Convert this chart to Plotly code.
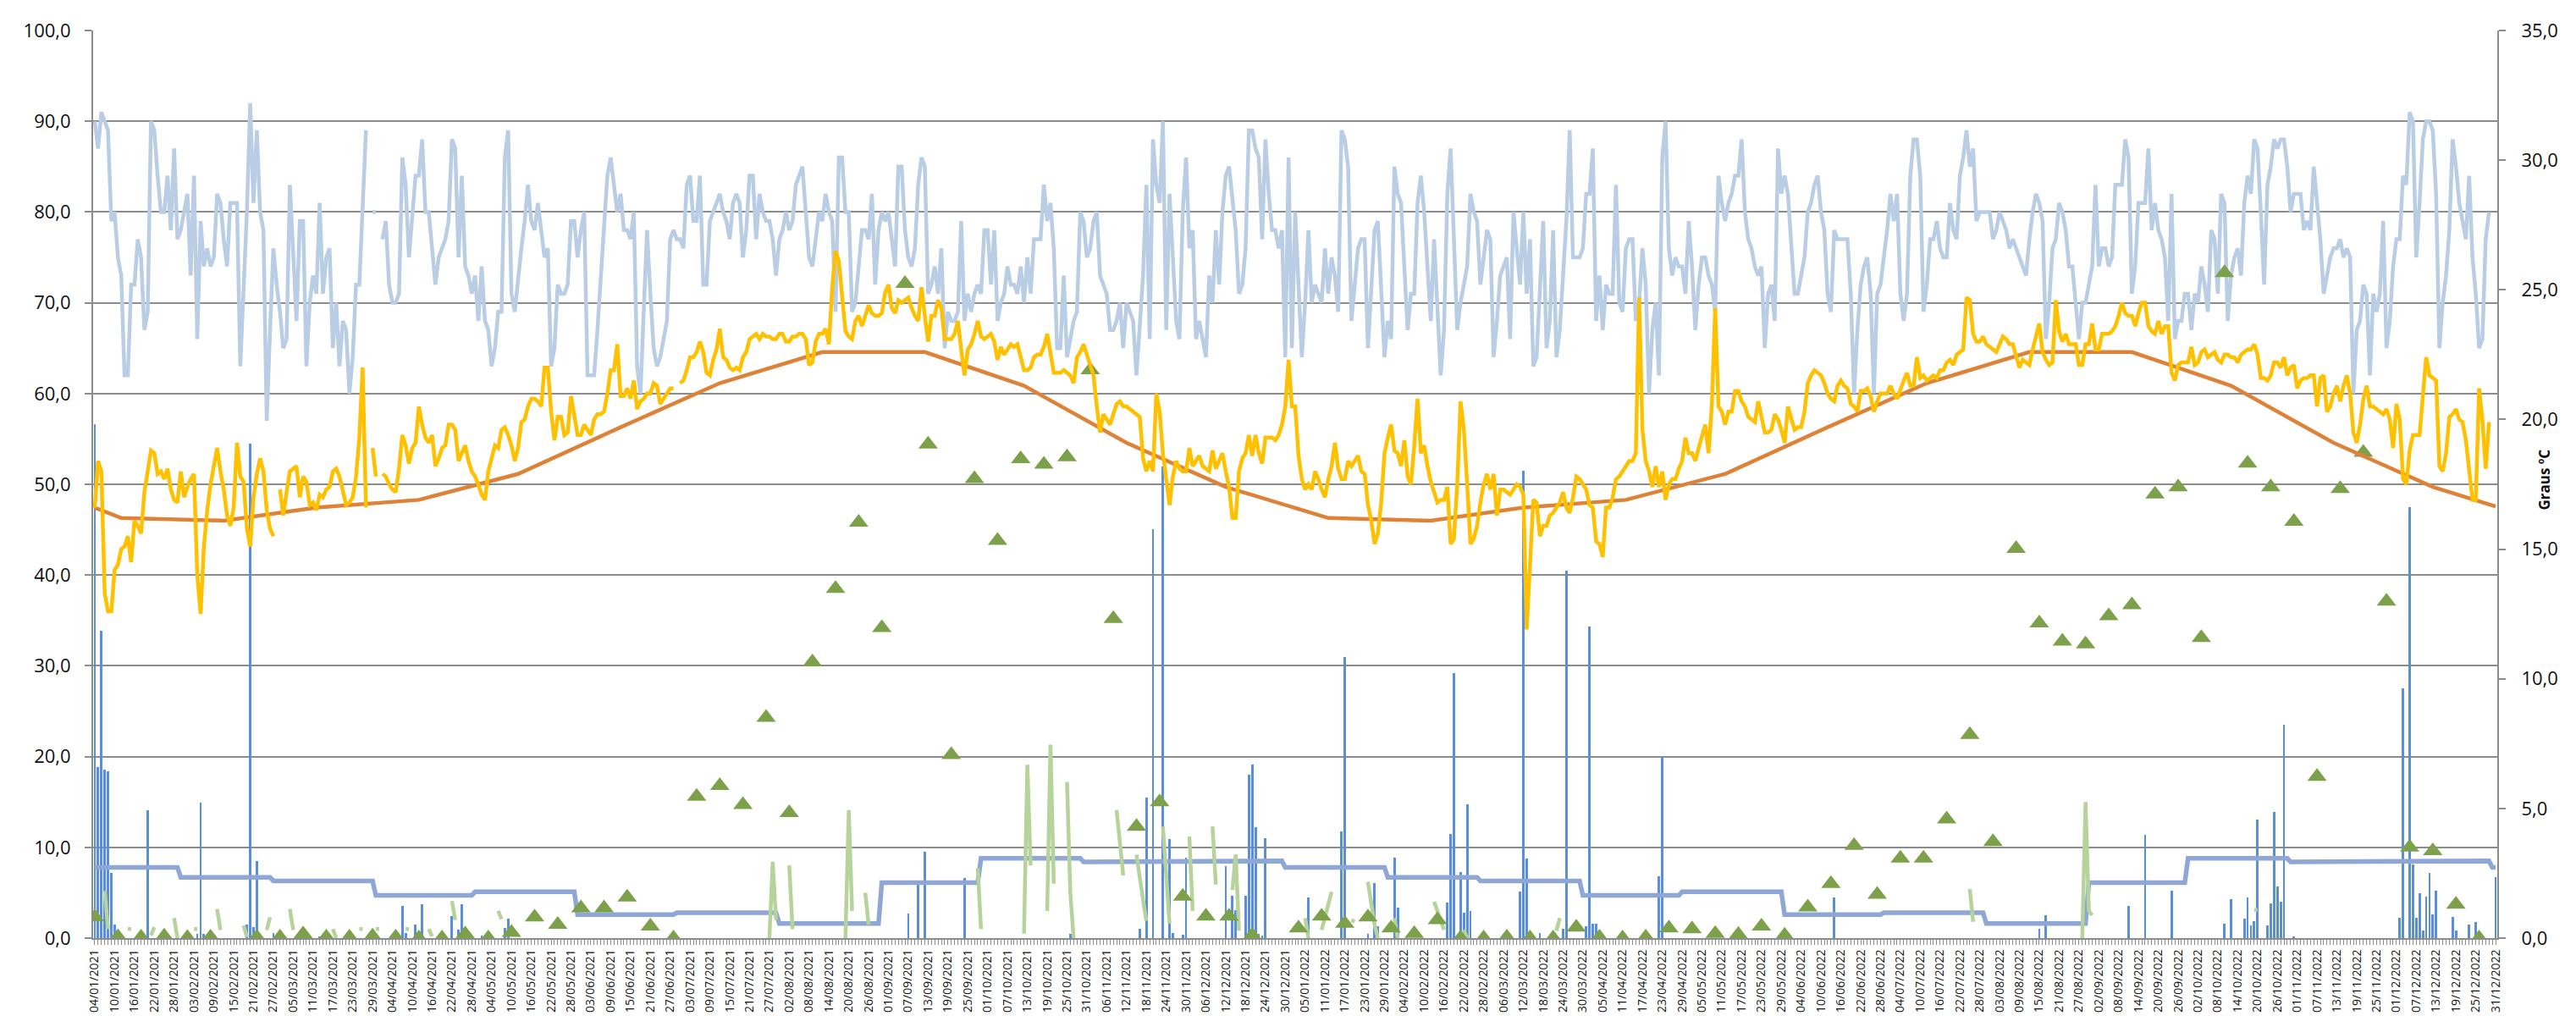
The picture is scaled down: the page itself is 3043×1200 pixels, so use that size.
import pandas as pd
import plotly.graph_objects as go

# ---------------- categories ----------------
days = pd.date_range("2021-01-04", "2022-12-31", freq="D")          # 727 daily categories
label_days = days[::6]                                                 # axis labels every 6 days
week_days = pd.date_range("2021-01-04", periods=104, freq="7D")       # weekly series dates

# ---------------- daily relative humidity (%) ----------------
humidity = [
    90,87,91,90,89,79,80,75,73,62,62,72,72,77,75,67,69,90,89,84,
    80,80,84,78,87,77,78,80,82,73,84,66,79,74,76,74,75,82,81,77,
    74,81,81,81,63,72,80,92,81,89,80,78,57,67,76,72,69,65,66,83,
    75,68,79,79,63,70,73,71,81,71,75,76,65,70,63,68,67,60,64,72,
    72,80,89,None,80,80,None,77,79,72,70,70,71,86,83,75,80,84,84,88,
    80,80,76,72,75,76,77,79,88,87,75,84,74,73,71,73,68,74,68,67,
    63,65,69,69,86,89,71,69,73,76,79,83,79,78,81,78,75,76,63,65,
    72,71,71,72,79,79,75,78,80,62,62,62,67,73,78,84,86,83,80,82,
    78,78,77,80,63,60,70,78,71,65,63,64,66,68,77,78,77,77,76,83,
    84,79,79,84,72,72,79,80,81,82,80,79,77,81,82,81,75,78,84,84,
    77,82,80,79,79,77,73,77,78,80,78,79,83,84,85,80,75,74,77,80,
    79,82,80,79,69,86,86,80,80,69,70,74,78,78,77,82,72,78,80,79,
    80,77,74,85,85,78,75,74,76,83,86,85,71,72,74,71,76,65,69,68,
    68,69,79,68,71,69,71,72,71,78,78,72,78,68,70,71,74,72,72,71,
    74,70,75,71,77,77,77,83,79,81,76,65,65,73,64,66,68,69,80,79,
    75,76,79,80,73,72,71,67,67,68,70,65,70,69,68,62,68,73,83,66,
    88,83,81,90,67,82,75,68,66,80,86,76,78,66,68,66,64,73,70,78,
    72,80,84,85,81,78,71,72,76,89,89,87,86,77,88,82,78,78,76,78,
    64,86,65,80,72,64,70,78,70,72,71,70,76,71,75,73,69,89,88,85,
    68,72,76,77,77,65,72,78,79,72,64,68,66,85,82,81,74,67,71,71,
    81,84,80,74,68,77,70,62,67,82,87,77,67,70,72,74,82,80,79,72,
    75,78,77,64,68,73,74,75,66,80,76,72,80,71,77,63,64,72,79,65,
    68,78,64,67,73,79,89,75,75,75,76,82,82,87,68,73,67,72,71,71,
    83,70,69,76,77,77,68,70,76,72,60,67,70,62,86,90,76,73,75,74,
    74,71,79,74,67,72,75,75,73,72,69,84,81,79,81,82,84,84,88,80,
    77,76,74,73,74,65,71,72,68,87,82,84,82,77,71,71,73,75,80,81,
    83,84,80,78,71,69,78,77,77,77,77,71,60,67,72,74,75,71,60,71,
    72,75,78,82,79,82,71,68,71,84,88,88,84,69,72,77,77,79,76,75,
    75,81,78,77,84,86,89,85,87,79,80,80,80,80,77,78,80,79,78,76,
    77,76,75,74,73,77,80,82,81,79,66,70,76,77,81,80,78,74,74,70,
    66,70,70,72,74,83,74,76,76,74,75,83,83,83,88,86,71,74,81,81,
    81,87,78,81,78,77,75,68,82,66,68,68,71,71,67,71,70,74,72,69,
    78,77,71,82,81,68,73,75,76,73,81,84,82,88,87,80,72,83,85,88,
    87,88,88,85,80,82,82,82,78,79,78,85,81,77,71,73,75,76,76,77,
    75,76,75,60,67,68,72,71,62,71,69,71,79,65,68,74,77,77,84,83,
    91,90,75,81,88,90,90,89,82,65,70,73,78,88,85,81,79,77,84,75,
    71,65,66,77,80,None,None,
]

# ---------------- daily mean temperature (ºC) ----------------
temperature = [
    16.6,18.4,18.0,13.3,12.6,12.6,14.2,14.4,15.0,15.1,15.5,14.5,16.1,15.9,15.6,17.2,18.0,18.8,18.7,17.9,
    18.0,17.7,18.1,17.3,16.9,16.8,18.0,17.0,17.4,17.7,17.9,14.0,12.5,15.1,16.5,17.5,18.2,18.9,18.0,17.3,
    16.3,15.9,16.6,19.1,17.8,17.6,15.8,15.1,17.0,17.9,18.5,18.0,16.5,15.8,15.5,None,17.3,16.3,17.2,18.0,
    18.1,18.2,17.0,17.8,17.6,16.7,16.8,16.5,17.1,17.0,17.3,17.4,18.0,18.1,17.8,17.3,16.7,16.8,17.0,17.8,
    19.3,22.0,16.6,None,18.9,17.8,None,17.9,17.8,17.5,17.3,17.2,18.1,19.4,19.0,18.3,18.9,19.1,20.5,19.8,
    19.3,19.1,19.4,18.2,18.5,18.9,19.0,19.8,19.8,19.6,18.4,18.7,19.0,18.4,18.0,17.8,17.5,17.1,16.9,18.0,
    18.5,19.0,18.9,19.6,19.7,19.4,19.0,18.4,18.9,19.9,20.0,20.5,20.8,20.8,20.7,20.5,22.0,22.0,20.3,19.2,
    20.1,20.1,19.4,19.5,20.9,20.1,19.4,19.4,19.8,19.6,19.4,20.0,20.2,20.2,20.3,21.0,21.9,21.9,22.9,20.9,
    20.9,21.2,20.8,21.5,20.4,20.7,20.8,21.0,21.0,21.4,21.3,20.6,20.8,21.0,21.2,21.2,None,21.4,21.5,21.9,
    22.4,22.4,22.6,23.0,22.6,21.8,21.7,22.3,22.7,23.5,22.4,22.3,22.0,21.9,22.0,21.9,22.4,22.6,23.1,23.2,
    23.3,23.1,23.3,23.2,23.2,23.1,23.1,23.3,23.3,23.0,23.0,23.2,23.2,23.3,23.3,23.1,22.1,22.2,23.0,23.3,
    23.3,23.5,22.9,25.1,26.5,26.1,24.7,23.4,23.2,23.1,23.8,24.0,23.6,24.0,24.4,24.1,24.0,24.0,24.1,24.9,
    25.2,24.3,24.1,24.6,24.5,24.6,24.7,24.3,24.0,23.8,25.1,24.0,23.0,24.0,24.0,24.6,24.3,23.1,23.1,23.1,
    23.3,23.8,22.7,21.7,22.7,22.9,23.3,23.8,23.2,23.1,23.2,23.3,23.0,22.3,22.8,22.5,22.7,22.9,22.8,22.9,
    22.4,21.9,21.9,22.0,22.4,22.5,22.5,22.8,23.3,22.6,21.8,21.8,21.8,21.9,21.8,21.7,21.4,22.4,22.6,22.9,
    22.5,22.1,21.7,20.5,19.5,20.2,20.0,19.8,20.2,20.6,20.7,20.5,20.5,20.4,20.3,20.2,20.1,18.5,18.0,18.4,
    18.0,21.0,20.3,18.7,17.7,16.7,17.8,18.4,18.1,18.0,18.0,18.9,18.2,18.4,18.6,18.2,18.1,18.0,18.8,18.1,
    18.4,18.7,18.0,17.4,16.2,16.2,18.0,18.5,18.7,19.4,18.6,19.4,18.7,18.3,19.3,19.3,19.3,19.2,19.4,19.8,
    20.5,22.3,20.5,20.5,18.6,17.7,17.3,17.5,17.3,18.0,17.7,17.3,17.0,17.7,18.2,19.1,18.1,17.7,17.7,18.4,
    18.2,18.4,18.6,18.0,17.9,16.7,16.1,15.2,15.6,16.8,18.7,19.3,19.8,18.8,18.7,18.2,19.2,17.8,17.5,19.0,
    20.8,18.7,19.0,18.2,17.6,17.2,16.8,16.9,16.9,17.4,15.2,15.4,17.5,20.7,19.6,17.5,15.2,15.4,15.9,16.8,
    17.5,17.9,17.3,17.9,16.3,17.3,17.3,17.2,17.1,17.3,17.5,17.4,17.1,11.9,14.3,16.9,16.8,15.5,15.9,15.9,
    16.3,16.4,16.6,16.8,17.2,16.6,16.4,17.0,17.8,17.7,17.5,17.3,16.7,16.6,15.3,15.2,14.7,16.6,16.6,17.0,
    17.7,17.8,18.0,18.2,18.4,18.4,18.7,24.7,19.6,18.4,18.0,17.4,18.2,17.4,18.0,16.9,17.5,17.7,17.7,18.1,
    18.4,19.3,18.7,18.7,18.4,18.9,19.4,19.8,18.7,20.6,24.3,20.5,20.3,19.8,20.3,20.3,21.1,21.1,20.7,20.5,
    20.1,20.0,19.9,20.7,20.1,19.5,19.5,19.6,20.2,20.0,19.6,19.1,20.5,20.1,19.6,19.7,19.7,20.3,21.4,21.7,
    21.9,21.8,21.7,21.4,21.0,20.8,20.7,21.3,21.5,21.3,21.2,20.6,20.5,20.3,21.1,21.1,21.2,20.9,20.3,20.7,
    21.0,21.0,21.0,21.3,21.0,20.8,21.2,21.5,21.8,21.3,21.3,22.4,21.6,21.7,21.5,21.6,21.7,21.6,21.9,21.9,
    22.2,22.3,22.1,22.5,22.6,22.7,24.7,24.6,23.3,23.0,23.0,23.2,22.9,22.8,22.7,22.6,22.9,23.2,23.1,22.9,
    22.9,22.5,22.0,22.3,22.2,22.1,22.7,23.2,23.7,22.6,22.3,22.1,22.2,24.6,23.4,23.0,23.3,22.9,22.9,22.9,
    22.1,22.1,22.9,22.9,23.7,22.7,22.7,23.3,23.3,23.3,23.4,23.6,24.0,24.5,24.1,24.0,24.0,23.6,24.1,24.5,
    24.5,23.6,23.4,23.3,23.8,23.3,23.6,23.6,21.8,21.5,22.1,22.2,22.2,22.2,22.8,22.1,22.2,22.6,22.7,22.4,
    22.5,22.6,22.3,22.2,22.5,22.5,22.4,22.4,22.2,22.5,22.6,22.7,22.7,22.9,22.5,21.6,21.6,21.5,21.7,22.2,
    22.2,22.0,22.4,21.7,22.0,22.1,21.2,21.5,21.6,21.6,21.7,21.7,20.5,21.6,21.7,20.3,20.5,21.0,21.3,20.7,
    21.3,21.7,21.0,19.5,19.1,19.8,20.8,21.3,20.5,20.5,20.4,20.3,20.2,20.4,20.0,18.9,20.6,20.0,17.7,17.5,
    18.8,19.4,19.4,19.4,20.9,22.4,21.7,21.6,21.5,18.2,18.0,18.7,20.1,20.2,20.4,20.0,19.9,19.2,18.0,16.9,
    16.9,21.2,20.0,18.1,19.9,None,None,
]

# ---------------- climate normal temperature (ºC), knots ----------------
normal_temp_dates = ["2021-01-04",
    "2021-01-12","2021-02-12","2021-03-12","2021-04-12","2021-05-12","2021-06-12",
    "2021-07-12","2021-08-12","2021-09-12","2021-10-12","2021-11-12","2021-12-12",
    "2022-01-12","2022-02-12","2022-03-12","2022-04-12","2022-05-12","2022-06-12",
    "2022-07-12","2022-08-12","2022-09-12","2022-10-12","2022-11-12","2022-12-12",
    "2022-12-31"]
normal_temp = [16.6,
    16.2,16.1,16.6,16.9,17.9,19.7,21.4,22.6,22.6,21.3,19.1,17.4,
    16.2,16.1,16.6,16.9,17.9,19.7,21.4,22.6,22.6,21.3,19.1,17.4,
    16.65]

# ---------------- climate normal daily precipitation (mm), by month ----------------
normal_precip_month = [7.8, 6.7, 6.3, 4.7, 5.1, 2.6, 2.8, 1.6, 6.1, 8.8, 8.4, 8.5]

# ---------------- daily precipitation (mm), rainy days only ----------------
rain_dates = [
    "2021-01-04","2021-01-05","2021-01-06","2021-01-07","2021-01-08","2021-01-09","2021-01-10",
    "2021-01-20","2021-02-04","2021-02-05","2021-02-06","2021-02-19","2021-02-20","2021-02-21",
    "2021-02-22","2021-02-27","2021-03-13","2021-04-07","2021-04-08","2021-04-11","2021-04-13",
    "2021-04-22","2021-04-24","2021-04-25","2021-05-01","2021-05-08","2021-05-09",
    "2021-09-07","2021-09-10","2021-09-12","2021-09-24","2021-10-26",
    "2021-11-16","2021-11-18","2021-11-20","2021-11-23","2021-11-25","2021-11-26","2021-11-29",
    "2021-11-30","2021-12-12","2021-12-14","2021-12-15","2021-12-18","2021-12-19","2021-12-20",
    "2021-12-21","2021-12-22","2021-12-23","2021-12-24",
    "2022-01-06","2022-01-16","2022-01-17","2022-01-24","2022-01-26","2022-01-27","2022-02-01",
    "2022-02-02","2022-02-17","2022-02-18","2022-02-19","2022-02-21","2022-02-22","2022-02-23",
    "2022-02-24","2022-03-11","2022-03-12","2022-03-13","2022-03-17","2022-03-24","2022-03-25",
    "2022-03-31","2022-04-01","2022-04-02","2022-04-03","2022-04-22","2022-04-23",
    "2022-06-14","2022-08-15","2022-08-17","2022-09-11","2022-09-16","2022-09-24",
    "2022-10-10","2022-10-12","2022-10-16","2022-10-17","2022-10-18","2022-10-19","2022-10-20",
    "2022-10-23","2022-10-24","2022-10-25","2022-10-26","2022-10-27","2022-10-28","2022-10-31",
    "2022-12-02","2022-12-03","2022-12-05","2022-12-06","2022-12-07","2022-12-08","2022-12-09",
    "2022-12-10","2022-12-11","2022-12-12","2022-12-13","2022-12-18","2022-12-19","2022-12-23",
    "2022-12-25","2022-12-31",
]
rain_mm = [
    56.6,18.8,33.9,18.6,18.4,7.2,1.5,
    14.1,0.5,14.9,0.5,1.5,54.5,1.2,
    8.5,0.6,0.1,3.5,0.6,1.5,3.7,
    2.4,0.9,3.7,0.3,1.1,2.1,
    2.7,5.9,9.5,6.6,0.5,
    1.0,15.5,45.1,52.0,10.9,0.6,0.4,
    8.9,7.9,4.7,3.1,4.7,18.0,19.1,
    12.2,0.5,0.3,11.0,
    4.5,11.8,31.0,0.5,6.1,1.3,8.9,
    3.4,3.9,11.5,29.2,7.3,2.8,14.7,
    3.0,5.1,51.5,8.8,0.6,1.0,40.5,
    1.3,34.3,1.6,1.6,6.8,20.0,
    4.5,1.0,2.5,3.5,11.4,5.2,
    1.6,4.3,2.1,4.5,1.4,1.9,13.1,
    1.4,3.8,13.9,5.7,4.0,23.5,0.2,
    2.2,27.5,47.5,8.1,2.2,4.9,0.8,
    4.6,7.2,2.6,5.2,2.3,0.8,1.5,
    1.8,6.7,
]

# ---------------- weekly series (triangles) ----------------
weekly_values = [
    2.3,0.15,0.1,0.2,0.05,0.1,None,0.1,0.1,0.45,
    0.1,0.1,0.2,0.1,0.0,0.0,0.45,0.0,0.6,2.3,
    1.5,3.3,3.3,4.5,1.3,0.0,15.6,16.8,14.7,24.3,
    13.8,30.4,38.5,45.8,34.2,72.1,54.4,20.2,50.6,43.8,
    52.8,52.2,53.0,62.6,35.2,12.3,15.0,4.6,2.4,2.4,
    0.3,None,1.1,2.4,1.6,2.3,1.1,0.5,2.0,0.0,
    0.0,0.1,0.0,0.0,1.2,0.1,0.0,0.1,1.1,1.0,
    0.5,0.4,1.3,0.3,3.4,6.0,10.2,4.8,8.8,8.8,
    13.1,22.4,10.6,42.9,34.7,32.7,32.4,35.5,36.7,48.9,
    49.7,33.1,73.3,52.3,49.7,45.9,17.8,49.5,53.5,37.1,
    10.0,9.6,3.7,0.0,
]

# ---------------- intermittent daily series (light green), segments ----------------
green_segments = [
    ("2021-01-07",[5.2,1.0]),("2021-01-14",[1.0,1.0]),("2021-01-21",[0.3,1.2]),
    ("2021-01-28",[2.2,0.0]),("2021-02-03",[1.0,1.0]),("2021-02-10",[3.2,0.9]),
    ("2021-02-18",[1.4,0.1]),("2021-02-25",[0.9,2.3]),("2021-03-04",[3.2,0.9]),
    ("2021-03-17",[1.0,0.0]),("2021-03-25",[1.0,1.0]),("2021-03-30",[1.0,1.0]),
    ("2021-04-08",[1.0,1.0]),("2021-04-15",[1.0,0.2]),("2021-04-22",[4.1,2.0]),
    ("2021-05-06",[3.0,2.1]),
    ("2021-07-27",[0.0,8.4,2.0]),("2021-08-02",[8.0,1.0]),("2021-08-19",[0.0,14.1,3.0]),
    ("2021-08-25",[5.0,1.5]),("2021-09-28",[7.7,1.0]),("2021-10-12",[0.5,19.1,8.0]),
    ("2021-10-19",[3.0,21.3,6.0]),("2021-10-25",[17.2,5.0,0.0]),
    ("2021-11-09",[14.1,10.5,6.9]),("2021-11-15",[9.2,6.5,4.2,1.9]),
    ("2021-11-23",[12.3,7.0,1.6]),("2021-12-01",[11.2,3.0]),("2021-12-08",[12.3,5.9]),
    ("2021-12-14",[5.3,9.2,0.8]),
    ("2022-01-05",[2.2,0.0]),("2022-01-10",[0.9,2.3,3.7,5.1]),("2022-01-19",[2.0,1.8]),
    ("2022-01-24",[6.2,4.0,1.5,0.0]),("2022-02-01",[2.2,0.0]),("2022-02-13",[4.0,3.0,2.0,0.9]),
    ("2022-02-22",[0.9,0.0]),("2022-03-22",[0.8,2.2]),
    ("2022-07-25",[5.4,1.8]),("2022-08-28",[0.0,15.0,3.0,2.5]),("2022-10-19",[3.1,3.1]),
]

# ---------------- build traces ----------------
N = len(days)
humidity = (humidity + [None] * N)[:N]
temperature = (temperature + [None] * N)[:N]

# monthly normal precipitation laid out per day (the series switches two days before each month)
step_precip = [normal_precip_month[(d + pd.Timedelta(days=2)).month - 1] for d in days]

gx, gy = [], []
for start, vals in green_segments:
    s = pd.Timestamp(start)
    for k, v in enumerate(vals):
        gx.append(s + pd.Timedelta(days=k))
        gy.append(v)
    gx.append(s + pd.Timedelta(days=len(vals)))
    gy.append(None)

fig = go.Figure()

fig.add_trace(go.Bar(
    x=pd.to_datetime(rain_dates), y=rain_mm, name="Precipitação",
    marker=dict(color="#5A8FD8", line=dict(width=0)),
    width=86400000 * 0.72,
))
fig.add_trace(go.Scatter(
    x=days, y=step_precip, mode="lines", name="Precipitação normal",
    line=dict(color="#8EA7D6", width=5.5),
))
fig.add_trace(go.Scatter(
    x=days, y=humidity, mode="lines", name="Humidade relativa",
    line=dict(color="#B9CDE5", width=4.5), connectgaps=False,
))
fig.add_trace(go.Scatter(
    x=pd.to_datetime(normal_temp_dates), y=normal_temp, mode="lines", name="Temperatura normal",
    line=dict(color="#DE8238", width=4.5), yaxis="y2",
))
fig.add_trace(go.Scatter(
    x=days, y=temperature, mode="lines", name="Temperatura média",
    line=dict(color="#FFC000", width=4.5), yaxis="y2", connectgaps=False,
))
fig.add_trace(go.Scatter(
    x=gx, y=gy, mode="lines", name="Série diária",
    line=dict(color="#B5D39A", width=4.5), connectgaps=False,
))
fig.add_trace(go.Scatter(
    x=week_days, y=weekly_values, mode="markers", name="Série semanal",
    marker=dict(symbol="triangle-up", size=20, color="#7DA04A", line=dict(width=0)),
))

axis_grey = "#8C8C8C"
tick_font = dict(family="Open Sans, Liberation Sans, sans-serif", size=22, color="#111111")

fig.update_layout(
    width=3043, height=1200,
    margin=dict(l=102, r=101, t=23, b=92),
    paper_bgcolor="white", plot_bgcolor="white",
    showlegend=False,
    separators=", ",
    bargap=0,
    xaxis=dict(
        type="date",
        range=["2021-01-03 12:00", "2022-12-31 12:00"],
        tickvals=label_days,
        ticktext=[d.strftime("%d/%m/%Y") for d in label_days],
        tickangle=-90,
        tickfont=dict(family="Open Sans, Liberation Sans, sans-serif", size=14, color="#111111"),
        ticks="outside", ticklen=6, tickcolor=axis_grey, tickwidth=1,
        minor=dict(dtick=86400000, ticks="outside", ticklen=6, tickcolor=axis_grey, tickwidth=1, showgrid=False),
        showgrid=False,
        showline=True, linecolor=axis_grey, linewidth=2,
        zeroline=False,
    ),
    yaxis=dict(
        range=[0, 100], dtick=10, tickformat=".1f",
        tickfont=tick_font, ticklabelstandoff=12,
        showgrid=True, gridcolor=axis_grey, gridwidth=1.6,
        ticks="outside", ticklen=8, tickcolor=axis_grey, tickwidth=1.5,
        showline=True, linecolor=axis_grey, linewidth=2,
        zeroline=False,
    ),
    yaxis2=dict(
        range=[0, 35], dtick=5, tickformat=".1f",
        overlaying="y", side="right",
        tickfont=tick_font, ticklabelstandoff=14,
        showgrid=False,
        ticks="outside", ticklen=8, tickcolor=axis_grey, tickwidth=1.5,
        showline=True, linecolor=axis_grey, linewidth=2,
        zeroline=False,
    ),
    annotations=[dict(
        text="<b>Graus ºC</b>", xref="paper", yref="paper",
        x=1.0197, y=0.505, xanchor="center", yanchor="middle",
        textangle=-90, showarrow=False,
        font=dict(family="Open Sans, Liberation Sans, sans-serif", size=17, color="#111111"),
    )],
)

fig.write_html("out.html")
